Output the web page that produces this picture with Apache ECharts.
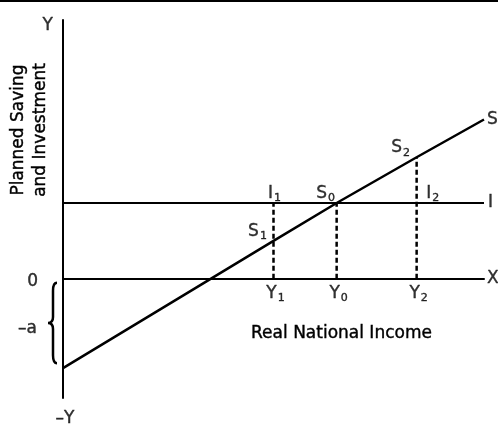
<!DOCTYPE html>
<html>
<head>
<meta charset="utf-8">
<script src="https://cdn.jsdelivr.net/npm/echarts@6/dist/echarts.min.js"></script>
<style>
  html, body { margin: 0; padding: 0; background: #fff; }
  #chart { width: 498px; height: 424px; }
</style>
</head>
<body>
<div id="chart"></div>
<script>
// Saving–investment equilibrium: planned saving S rises with income,
// planned investment I is autonomous; equilibrium income is Y0.
const incomeLevels = [0, 50, 65, 84, 100];   // real national income
const savingValues = [-45, 19, 38, 61, 80];  // planned saving along S
const investmentLevel = 38;                  // planned investment I
const incomeMarks = [50, 65, 84];            // Y1, Y0, Y2
const incomeMarkSubs = ['1', '0', '2'];
const savingAtMarks = [19, 38, 61];          // S1, S0, S2
const autonomousSaving = -45;                // -a
const incomeMax = 100;
const valueMin = -60, valueMax = 130;

const FONT = 'DejaVu Sans';
const INK = '#000';
const heavy = { textBorderColor: INK, textBorderWidth: 0.4 };
const rich = {
  m: Object.assign({ fontFamily: FONT, fontSize: 17, color: INK }, heavy),
  s: Object.assign({ fontFamily: FONT, fontSize: 11, color: INK, padding: [10, 0, 0, 1] }, heavy)
};
const sub = (main, s) => '{m|' + main + '}{s|' + s + '}';

function labelPoint(x, y, text, position, opts) {
  return {
    value: [x, y],
    label: Object.assign({
      show: true, position: position, formatter: text,
      rich: rich, fontFamily: FONT, fontSize: 17, color: INK
    }, opts || {})
  };
}

const labels = [
  labelPoint(0, valueMax, '{m|Y}', 'left', { distance: 10, offset: [0, 6] }),
  labelPoint(0, valueMin, '{m|–Y}', 'bottom', { distance: 12, offset: [2, 0] }),
  labelPoint(0, 0, '{m|0}', 'left', { distance: 25, offset: [0, 3] }),
  labelPoint(0, autonomousSaving / 2, '{m|–a}', 'left', { distance: 25, offset: [-1, 5] }),
  labelPoint(incomeMax, 0, '{m|X}', 'right', { distance: 3 }),
  labelPoint(incomeMax, investmentLevel, '{m|I}', 'right', { distance: 4 }),
  labelPoint(incomeMax, savingValues[savingValues.length - 1], '{m|S}', 'right', { distance: 3 }),
  labelPoint(incomeMarks[0], savingAtMarks[0], sub('S', '1'), 'top', { distance: 0, offset: [-16, 1] }),
  labelPoint(incomeMarks[1], savingAtMarks[1], sub('S', '0'), 'top', { distance: 0, offset: [-11, 1] }),
  labelPoint(incomeMarks[2], savingAtMarks[2], sub('S', '2'), 'top', { distance: 0, offset: [-16, 1] }),
  labelPoint(incomeMarks[0], investmentLevel, sub('I', '1'), 'top', { distance: 0, offset: [1, 1] }),
  labelPoint(incomeMarks[2], investmentLevel, sub('I', '2'), 'top', { distance: 0, offset: [16, 1] })
];
incomeMarks.forEach((x, i) => {
  labels.push(labelPoint(x, 0, sub('Y', incomeMarkSubs[i]), 'bottom', { distance: 4, offset: [2, 0] }));
});

// Dashed verticals: Y1 up to I, Y0 up to S0 = I, Y2 up to S2
const dashTops = [investmentLevel, savingAtMarks[1], savingAtMarks[2]];
const dashSeries = incomeMarks.map((x, i) => ({
  type: 'line',
  data: [[x, 0], [x, dashTops[i]]],
  symbol: 'none',
  lineStyle: { color: INK, width: 2.5, type: [5, 3] },
  z: 3
}));

const nameStyle = Object.assign({ fontFamily: FONT, fontSize: 17, color: INK }, heavy);

const chart = echarts.init(document.getElementById('chart'), null, { renderer: 'canvas' });
chart.setOption({
  backgroundColor: '#fff',
  animation: false,
  grid: { left: 63, right: 14, top: 20, bottom: 26, containLabel: false, outerBoundsMode: 'none' },
  xAxis: {
    type: 'value', min: 0, max: incomeMax,
    axisLine: { show: true, onZero: true, lineStyle: { color: INK, width: 2 } },
    axisTick: { show: false }, axisLabel: { show: false }, splitLine: { show: false },
    name: 'Real National Income',
    nameLocation: 'middle', nameGap: -73,
    nameTextStyle: Object.assign({ padding: [0, 0, 0, 136] }, nameStyle)
  },
  yAxis: {
    type: 'value', min: valueMin, max: valueMax,
    axisLine: { show: true, onZero: false, lineStyle: { color: INK, width: 2 } },
    axisTick: { show: false }, axisLabel: { show: false }, splitLine: { show: false },
    name: 'Planned Saving\nand Investment',
    nameLocation: 'middle', nameGap: 11,
    nameTextStyle: Object.assign({ lineHeight: 22, padding: [0, 0, 0, 158] }, nameStyle)
  },
  graphic: [{
    type: 'rect', left: 0, top: 0, z: 100,
    shape: { width: 498, height: 2 }, style: { fill: INK }
  }],
  series: [
    {
      type: 'line', name: 'S',
      data: incomeLevels.map((x, i) => [x, savingValues[i]]),
      symbol: 'none', lineStyle: { color: INK, width: 2.5 }, z: 4
    },
    {
      type: 'line', name: 'I',
      data: [[0, investmentLevel], [incomeMax, investmentLevel]],
      symbol: 'none', lineStyle: { color: INK, width: 2 }, z: 4
    },
    ...dashSeries,
    {
      // brace marking the autonomous dissaving -a on the vertical axis
      type: 'custom', clip: false,
      data: [[0, 0, autonomousSaving]],
      renderItem: function (params, api) {
        const top = api.coord([api.value(0), api.value(1)]);
        const bot = api.coord([api.value(0), api.value(2)]);
        const x = top[0] - 10;
        const t = top[1] + 4, b = bot[1] - 5, mid = (t + b) / 2;
        const d = 'M' + (x + 4) + ' ' + t +
          ' Q' + x + ' ' + t + ' ' + x + ' ' + (t + 8) +
          ' L' + x + ' ' + (mid - 6) +
          ' Q' + x + ' ' + mid + ' ' + (x - 5) + ' ' + mid +
          ' Q' + x + ' ' + mid + ' ' + x + ' ' + (mid + 6) +
          ' L' + x + ' ' + (b - 8) +
          ' Q' + x + ' ' + b + ' ' + (x + 4) + ' ' + b;
        return {
          type: 'path',
          shape: { pathData: d },
          style: { fill: 'none', stroke: INK, lineWidth: 2.5 }
        };
      },
      z: 5
    },
    {
      type: 'scatter', symbolSize: 0, clip: false, silent: true,
      data: labels, z: 6
    }
  ]
});
</script>
</body>
</html>
